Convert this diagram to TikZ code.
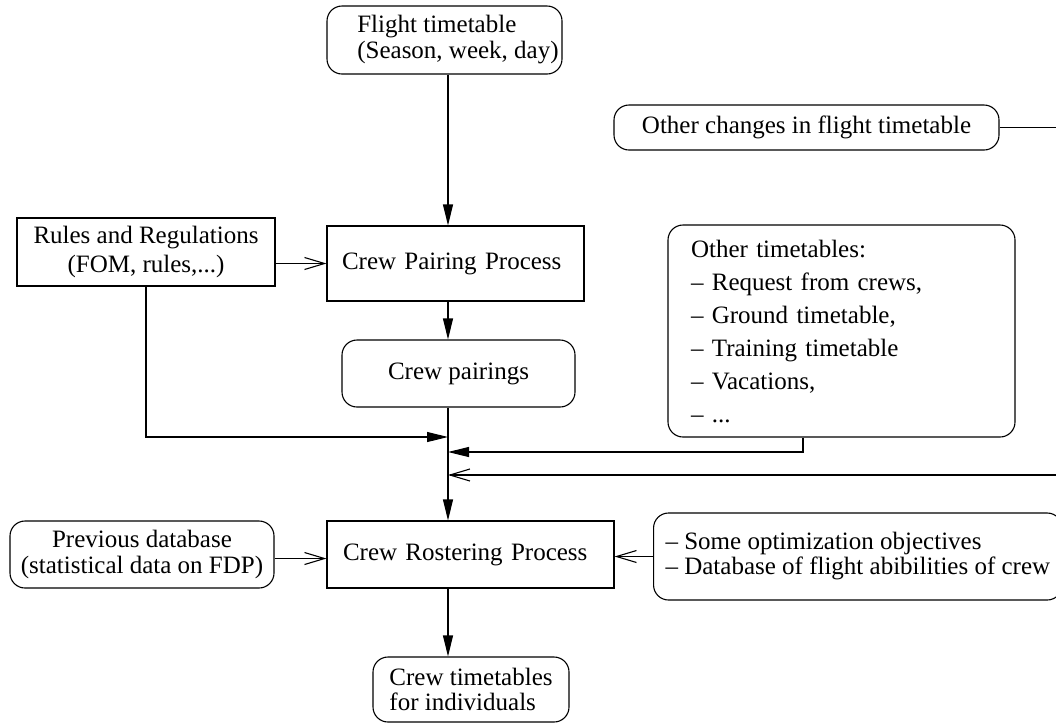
\documentclass[tikz,border=0pt]{standalone}
\usepackage{fontspec}
\setmainfont{Liberation Serif}
\usetikzlibrary{arrows.meta}
\begin{document}
\begin{tikzpicture}[x=1pt,y=-1pt,
  line width=1.1pt,
  every node/.style={font=\fontsize{25}{26}\selectfont, inner sep=0pt},
  sqbox/.style={draw, rectangle},
  rbox/.style={draw, rectangle, rounded corners=15pt},
  solid tip/.style={-{Triangle[length=21pt,width=10pt]}},
  open tip/.style={-{Straight Barb[length=20pt,width=12pt]}},
]
\useasboundingbox (0,0) rectangle (1056,724);
\clip (0,0) rectangle (1056,724);

% boxes
\node[rbox, minimum width=235pt, minimum height=68pt, align=left] (flight) at (444.5,40)
  {\hspace*{27pt}Flight timetable\\\hspace*{27pt}(Season, week, day)};
\node[rbox, minimum width=385pt, minimum height=45pt] (changes) at (806.5,127.5)
  {Other changes in flight timetable};
\node[sqbox, minimum width=258pt, minimum height=68pt, align=center,
      font=\fontsize{25}{29}\selectfont] (rules) at (146,252)
  {Rules and Regulations\\(FOM, rules,...)};
\node[sqbox, minimum width=257pt, minimum height=75pt, text width=227pt, align=left] (pairing) at (455.5,263.5)
  {Crew Pairing Process};
\node[rbox, minimum width=347pt, minimum height=212pt, text width=301pt, align=left,
      font=\fontsize{25}{33}\selectfont] (others) at (841.5,331)
  {Other timetables:\\– Request from crews,\\– Ground timetable,\\– Training timetable\\– Vacations,\\– ...};
\node[rbox, minimum width=233pt, minimum height=67pt] (pairs) at (458.5,373.5)
  {Crew pairings};
\node[rbox, minimum width=264pt, minimum height=67pt, align=center] (prev) at (142,554.5)
  {Previous database\\(statistical data on FDP)};
\node[sqbox, minimum width=287pt, minimum height=67pt, text width=255pt, align=left] (roster) at (470.5,554.5)
  {Crew Rostering Process};
\node[rbox, anchor=west, inner xsep=12pt, minimum height=87pt, align=left,
      font=\fontsize{25}{25}\selectfont] (obj) at (653,556.5)
  {– Some optimization objectives\\– Database of flight abibilities of crew};
\node[rbox, minimum width=196pt, minimum height=65pt, align=left,
      font=\fontsize{25}{25}\selectfont] (times) at (471,689.5)
  {Crew timetables\\for individuals};

% junctions on the main flow line
\coordinate (spine) at (448,0);
\coordinate (mergeA) at (448,437);
\coordinate (mergeB) at (448,452);
\coordinate (mergeC) at (448,475);
\coordinate (loopA) at (1090,127.5);
\coordinate (loopB) at (1090,475);

% connectors
\draw[solid tip] (flight.south -| spine) -- (pairing.north -| spine);
\draw[open tip] (pairing.west -| rules.east) -- (pairing.west);
\draw[solid tip] (pairing.south -| spine) -- (pairs.north -| spine);
\draw[solid tip] (pairs.south -| spine) -- (roster.north -| spine);
\draw[solid tip] (rules.south) |- (mergeA);
\draw[solid tip] ([xshift=-38.5pt]others.south) |- (mergeB);
\draw[open tip] (changes.east) -- (loopA) -- (loopB) -- (mergeC);
\draw[open tip] ([yshift=-4pt]prev.east) -- ([yshift=-4pt]roster.west);
\draw[open tip] (obj.west) -- (obj.west -| roster.east);
\draw[solid tip] (roster.south -| spine) -- (times.north -| spine);
\end{tikzpicture}
\end{document}
